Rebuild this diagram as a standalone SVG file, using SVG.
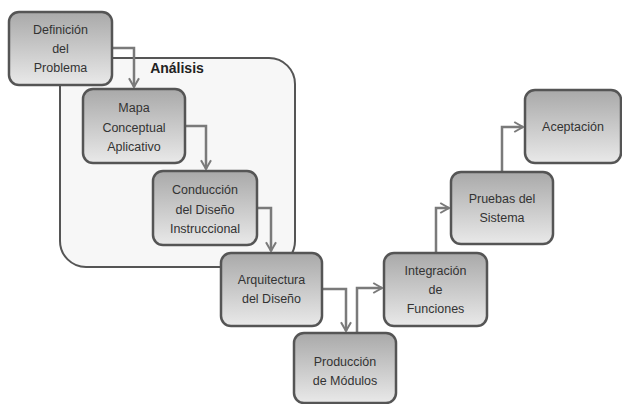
<svg xmlns="http://www.w3.org/2000/svg" width="622" height="404" viewBox="0 0 622 404">
<defs>
<linearGradient id="g" x1="0" y1="0" x2="0" y2="1">
<stop offset="0" stop-color="#a9a9a9"/>
<stop offset="1" stop-color="#e9e9e9"/>
</linearGradient>
<marker id="a" viewBox="0 0 10 10" refX="8" refY="5" markerWidth="5" markerHeight="5" orient="auto" markerUnits="strokeWidth">
<path d="M1,1 L8,5 L1,9" fill="none" stroke="#7a7a7a" stroke-width="1.6"/>
</marker>
<style>
.box{fill:url(#g);stroke:#555;stroke-width:2.5}
.t{font-family:"Liberation Sans",Arial,sans-serif;font-size:12.5px;fill:#333;text-anchor:middle}
.c{fill:none;stroke:#7a7a7a;stroke-width:2.5;marker-end:url(#a)}
</style>
</defs>
<rect width="622" height="404" fill="#fff"/>
<g id="analisis">
<rect x="60" y="58" width="235" height="209" rx="26" fill="#f7f7f7" stroke="#555" stroke-width="2"/>
<text x="177" y="73" font-family="Liberation Sans,Arial,sans-serif" font-size="14" font-weight="bold" fill="#222" text-anchor="middle">Análisis</text>
</g>
<g id="connectors">
<path class="c" d="M112,48 H134 V87"/>
<path class="c" d="M185,126 H206 V169"/>
<path class="c" d="M257,208 H271 V251"/>
<path class="c" d="M322,289 H346 V331"/>
<path class="c" d="M357,333 V288 H382"/>
<path class="c" d="M436,253 V208 H449"/>
<path class="c" d="M502,172 V127 H523"/>
</g>
<g id="definicion">
<rect class="box" x="9" y="12" width="103" height="73" rx="10"/>
<text class="t" x="60.5" y="34">Definición</text>
<text class="t" x="60.5" y="53">del</text>
<text class="t" x="60.5" y="72">Problema</text>
</g>
<g id="mapa">
<rect class="box" x="83" y="89" width="102" height="74" rx="10"/>
<text class="t" x="134" y="112">Mapa</text>
<text class="t" x="134" y="131.5">Conceptual</text>
<text class="t" x="134" y="151">Aplicativo</text>
</g>
<g id="conduccion">
<rect class="box" x="153" y="171" width="104" height="74" rx="10"/>
<text class="t" x="205" y="194">Conducción</text>
<text class="t" x="205" y="213.5">del Diseño</text>
<text class="t" x="205" y="233">Instruccional</text>
</g>
<g id="arquitectura">
<rect class="box" x="221" y="253" width="101" height="73" rx="10"/>
<text class="t" x="271.5" y="284">Arquitectura</text>
<text class="t" x="271.5" y="303">del Diseño</text>
</g>
<g id="produccion">
<rect class="box" x="294" y="333" width="102" height="70" rx="10"/>
<text class="t" x="345" y="366">Producción</text>
<text class="t" x="345" y="385">de Módulos</text>
</g>
<g id="integracion">
<rect class="box" x="384" y="253" width="103" height="73" rx="10"/>
<text class="t" x="435.5" y="275">Integración</text>
<text class="t" x="435.5" y="294">de</text>
<text class="t" x="435.5" y="313">Funciones</text>
</g>
<g id="pruebas">
<rect class="box" x="451" y="172" width="102" height="72" rx="10"/>
<text class="t" x="502" y="203">Pruebas del</text>
<text class="t" x="502" y="222">Sistema</text>
</g>
<g id="aceptacion">
<rect class="box" x="525" y="90" width="96" height="73" rx="10"/>
<text class="t" x="573" y="131">Aceptación</text>
</g>
</svg>
